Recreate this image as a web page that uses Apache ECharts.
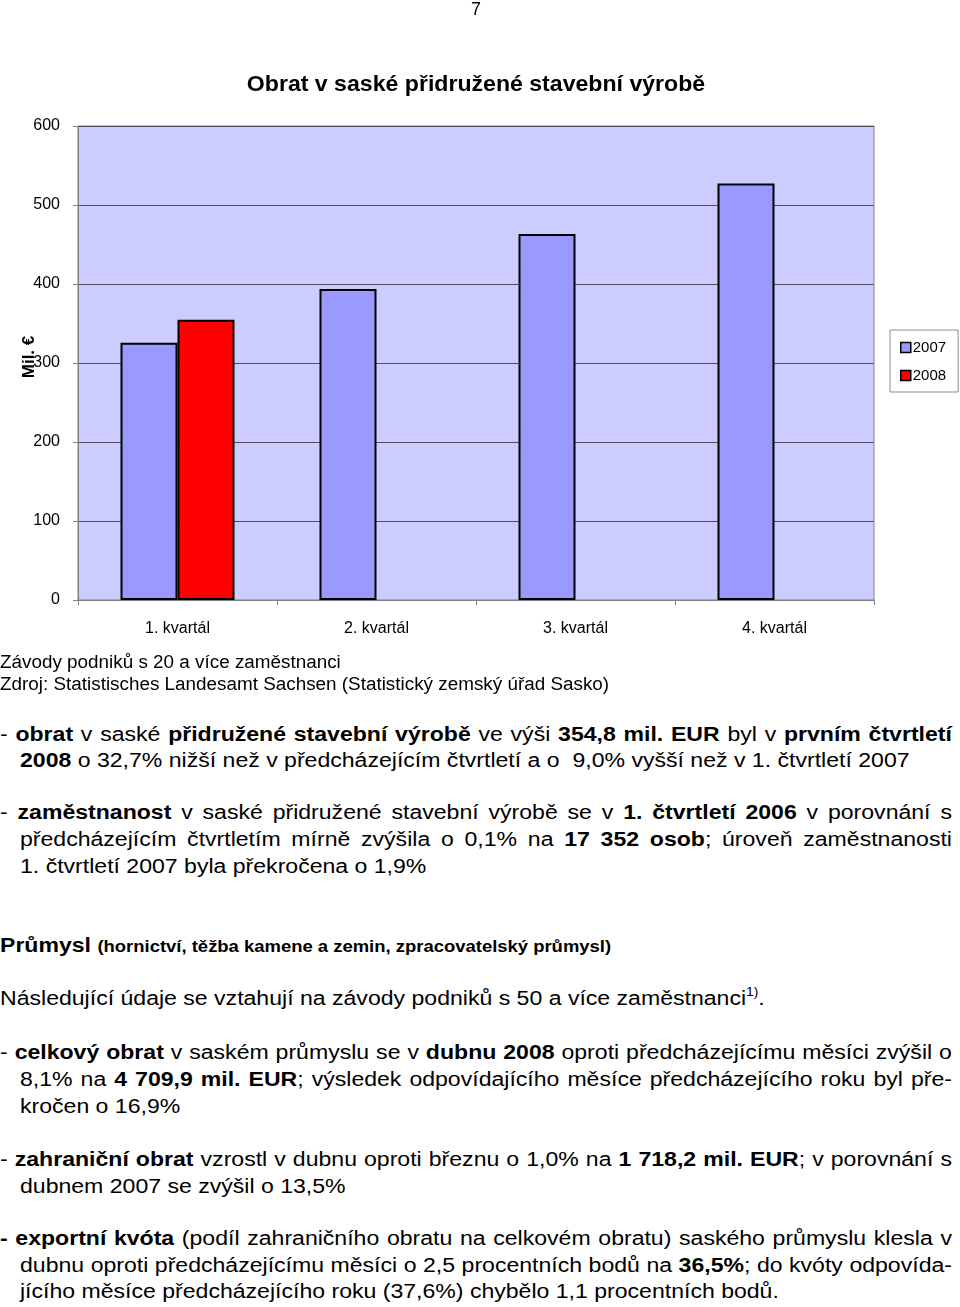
<!DOCTYPE html>
<html>
<head>
<meta charset="utf-8">
<script src="https://cdn.jsdelivr.net/npm/echarts@6/dist/echarts.min.js"></script>
<style>
  html, body { margin: 0; padding: 0; background: #fff; }
  body { width: 960px; height: 1307px; position: relative; overflow: hidden;
         font-family: "Liberation Sans", Arial, sans-serif; color: #000; }
  #chart { position: absolute; left: 0; top: 0; width: 960px; height: 660px; }
  .ln { position: absolute; height: 27px; line-height: 27px; font-size: 20px;
        transform: scaleX(1.153); transform-origin: 0 0; }
  .j { text-align: justify; text-align-last: justify; }
  .full { left: 0; width: 825.6px; }
  .ind { left: 20px; width: 808.3px; }
  .small { font-size: 18px; left: 0; transform: scaleX(1.048); width: 880px; }
  sup { font-size: 12px; line-height: 0; vertical-align: 9px; }
</style>
</head>
<body>
<div id="chart"></div>

<div class="ln small" style="top:649px;">Závody podniků s 20 a více zaměstnanci</div>
<div class="ln small" style="top:671px;">Zdroj: Statistisches Landesamt Sachsen (Statistický zemský úřad Sasko)</div>

<div class="ln full j" style="top:721px;">- <b>obrat</b> v saské <b>přidružené stavební výrobě</b> ve výši <b>354,8 mil. EUR</b> byl v <b>prvním čtvrtletí</b></div>
<div class="ln ind" style="top:747px;"><b>2008</b> o 32,7% nižší než v předcházejícím čtvrtletí a o&nbsp; 9,0% vyšší než v 1. čtvrtletí 2007</div>

<div class="ln full j" style="top:799px;">- <b>zaměstnanost</b> v saské přidružené stavební výrobě se v <b>1. čtvrtletí 2006</b> v porovnání s</div>
<div class="ln ind j" style="top:826px;">předcházejícím čtvrtletím mírně zvýšila o 0,1% na <b>17 352 osob</b>; úroveň zaměstnanosti</div>
<div class="ln ind" style="top:853px;">1. čtvrtletí 2007 byla překročena o 1,9%</div>

<div class="ln full" style="top:932px;"><b>Průmysl</b> <b style="font-size:16px;">(hornictví, těžba kamene a zemin, zpracovatelský průmysl)</b></div>

<div class="ln full" style="top:985px;">Následující údaje se vztahují na závody podniků s 50 a více zaměstnanci<sup>1)</sup>.</div>

<div class="ln full j" style="top:1039px;">- <b>celkový obrat</b> v saském průmyslu se v <b>dubnu 2008</b> oproti předcházejícímu měsíci zvýšil o</div>
<div class="ln ind j" style="top:1066px;">8,1% na <b>4 709,9 mil. EUR</b>; výsledek odpovídajícího měsíce předcházejícího roku byl pře-</div>
<div class="ln ind" style="top:1093px;">kročen o 16,9%</div>

<div class="ln full j" style="top:1146px;">- <b>zahraniční obrat</b> vzrostl v dubnu oproti březnu o 1,0% na <b>1 718,2 mil. EUR</b>; v porovnání s</div>
<div class="ln ind" style="top:1173px;">dubnem 2007 se zvýšil o 13,5%</div>

<div class="ln full j" style="top:1225px;"><b>- exportní kvóta</b> (podíl zahraničního obratu na celkovém obratu) saského průmyslu klesla v</div>
<div class="ln ind j" style="top:1252px;">dubnu oproti předcházejícímu měsíci o 2,5 procentních bodů na <b>36,5%</b>; do kvóty odpovída-</div>
<div class="ln ind" style="top:1278px;">jícího měsíce předcházejícího roku (37,6%) chybělo 1,1 procentních bodů.</div>

<script>
// guard: keep every justified line on a single line
document.querySelectorAll('.ln').forEach(function (el) {
  let fs = parseFloat(getComputedStyle(el).fontSize);
  let guard = 0;
  while (el.scrollHeight > 30 && guard++ < 40) { fs -= 0.2; el.style.fontSize = fs + 'px'; }
});

const categories = ['1. kvartál', '2. kvartál', '3. kvartál', '4. kvartál'];
const values2007 = [325.5, 393.7, 463.3, 527.2];
const values2008 = [354.8, null, null, null];
const seriesNames = ['2007', '2008'];
const yTicks = { min: 0, max: 600, interval: 100 };
const axisTitle = 'Mil. €';
const chartTitle = 'Obrat v saské přidružené stavební výrobě';

const FONT = '"Liberation Sans", Arial, sans-serif';
const chart = echarts.init(document.getElementById('chart'), null, { renderer: 'canvas' });
chart.setOption({
  animation: false,
  textStyle: { fontFamily: FONT, color: '#000' },
  graphic: [
    { type: 'text', x: 476, y: 10, style: { text: '7', font: '18px ' + FONT, fill: '#000', align: 'center', verticalAlign: 'middle' } },
    { type: 'text', x: 476, y: 85, scaleX: 1.05, style: { text: chartTitle,
        font: 'bold 22px ' + FONT, fill: '#000', align: 'center', verticalAlign: 'middle' } },
    { type: 'text', x: 29, y: 357, rotation: Math.PI / 2, style: { text: axisTitle,
        font: 'bold 17px ' + FONT, fill: '#000', align: 'center', verticalAlign: 'middle' } }
  ],
  legend: {
    orient: 'vertical', left: 890, top: 330,
    data: seriesNames,
    itemWidth: 10, itemHeight: 10, itemGap: 13,
    padding: [10, 12, 9, 10],
    borderColor: '#8c8c8c', borderWidth: 1,
    textStyle: { fontSize: 15, fontFamily: FONT, color: '#000', padding: [0, 0, 0, -3] },
    itemStyle: { borderWidth: 1.5, borderColor: '#000' },
    icon: 'rect'
  },
  grid: {
    left: 78, top: 126, width: 796, height: 474,
    show: true, backgroundColor: '#CCCCFF', borderColor: '#808080', borderWidth: 1
  },
  xAxis: {
    type: 'category', data: categories,
    axisLine: { lineStyle: { color: '#808080', width: 1 } },
    axisTick: { show: true, length: 5, lineStyle: { color: '#808080' } },
    axisLabel: { fontSize: 16, color: '#000', fontFamily: FONT, margin: 21 }
  },
  yAxis: {
    type: 'value', min: yTicks.min, max: yTicks.max, interval: yTicks.interval,
    axisLine: { show: true, lineStyle: { color: '#808080' } },
    axisTick: { show: true, length: 5, lineStyle: { color: '#808080' } },
    axisLabel: { fontSize: 16, color: '#000', fontFamily: FONT, margin: 18 },
    splitLine: { lineStyle: { color: '#4d4d5e', width: 1 } }
  },
  series: [
    { name: seriesNames[0], type: 'bar', data: values2007, barWidth: 57, barGap: '0%',
      itemStyle: { color: '#9999FF', borderColor: '#000', borderWidth: 2 } },
    { name: seriesNames[1], type: 'bar', data: values2008, barWidth: 57, barGap: '0%',
      itemStyle: { color: '#FF0000', borderColor: '#000', borderWidth: 2 } }
  ]
});
</script>
</body>
</html>
